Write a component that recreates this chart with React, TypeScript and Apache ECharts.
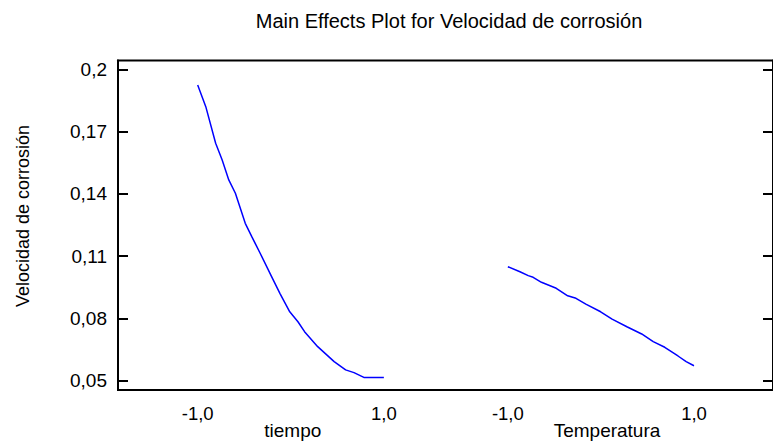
import React, { useEffect, useRef } from "react";
import * as echarts from "echarts";

// Tick labels (y) and factor levels (x)
const yTicks = [0.05, 0.08, 0.11, 0.14, 0.17, 0.2];
const levelTicks = [-1, 1];
const factorNames = ["tiempo", "Temperatura"];

// Main effect curve: tiempo
const tiempoX = [-1.0, -0.913, -0.807, -0.737, -0.666, -0.595, -0.489, -0.419, -0.329, -0.206, -0.117, -0.011, 0.077, 0.148, 0.289, 0.466, 0.589, 0.679, 0.785, 0.88, 1.0];
const tiempoY = [0.1924, 0.182, 0.1644, 0.1563, 0.1467, 0.1403, 0.1258, 0.1194, 0.1114, 0.1001, 0.0921, 0.0832, 0.0784, 0.0736, 0.0664, 0.0592, 0.0552, 0.0539, 0.0516, 0.0515, 0.0516];

// Main effect curve: Temperatura
const tempX = [-1.0, -0.87, -0.781, -0.728, -0.639, -0.48, -0.357, -0.268, -0.162, -0.003, 0.12, 0.279, 0.438, 0.562, 0.686, 0.828, 0.916, 1.0];
const tempY = [0.1049, 0.1025, 0.1006, 0.0998, 0.0974, 0.0945, 0.0909, 0.0897, 0.0869, 0.0832, 0.0797, 0.076, 0.0725, 0.0688, 0.0661, 0.0619, 0.0592, 0.0572];

const FONT = "'Liberation Sans', Arial, sans-serif";

export default function App() {
  const ref = useRef<HTMLDivElement>(null);
  useEffect(() => {
    document.body.style.margin = "0";
    if (!ref.current) return;
    const chart = echarts.init(ref.current, undefined, { renderer: "svg" });
    const gridRect = { left: 118, top: 60.5, width: 663, height: 329.5 };
    const yMin = 0.04552;
    const yMax = 0.20424;
    const fmtX = (v: number) => v.toFixed(1).replace(".", ",");
    const fmtY = (v: number) => String(Math.round(v * 100) / 100).replace(".", ",");
    const yBase = {
      type: "value",
      min: yMin,
      max: yMax,
      splitLine: { show: false },
    };
    chart.setOption({
      animation: false,
      backgroundColor: "#ffffff",
      textStyle: { fontFamily: FONT },
      grid: [
        { ...gridRect, show: true, borderColor: "#000", borderWidth: 2, backgroundColor: "transparent" },
        { ...gridRect },
      ],
      xAxis: [
        {
          type: "value",
          gridIndex: 0,
          min: -1.856,
          max: 5.18,
          axisLine: { show: true, onZero: false, lineStyle: { color: "#000", width: 2 } },
          axisTick: { show: false },
          splitLine: { show: false },
          axisLabel: {
            customValues: levelTicks,
            formatter: fmtX,
            color: "#000",
            fontSize: 18.5,
            fontFamily: FONT,
            margin: 14,
          },
        },
        {
          type: "value",
          gridIndex: 1,
          min: -5.189,
          max: 1.849,
          axisLine: { show: false },
          axisTick: { show: false },
          splitLine: { show: false },
          axisLabel: {
            customValues: levelTicks,
            formatter: fmtX,
            color: "#000",
            fontSize: 18.5,
            fontFamily: FONT,
            margin: 14,
          },
        },
      ],
      yAxis: [
        {
          ...yBase,
          gridIndex: 0,
          position: "left",
          axisLine: { show: true, onZero: false, lineStyle: { color: "#000", width: 2 } },
          axisTick: { show: true, inside: true, length: 10, customValues: yTicks, lineStyle: { color: "#000", width: 2 } },
          axisLabel: {
            customValues: yTicks,
            formatter: fmtY,
            color: "#000",
            fontSize: 19,
            fontFamily: FONT,
            margin: 11,
          },
        },
        {
          ...yBase,
          gridIndex: 0,
          position: "right",
          axisLine: { show: true, onZero: false, lineStyle: { color: "#000", width: 2 } },
          axisTick: { show: true, inside: true, length: 10, customValues: yTicks, lineStyle: { color: "#000", width: 2 } },
          axisLabel: { show: false },
        },
        {
          ...yBase,
          gridIndex: 1,
          show: false,
        },
      ],
      graphic: [
        {
          type: "text",
          x: 449,
          y: 21,
          style: {
            text: "Main Effects Plot for Velocidad de corrosión",
            fill: "#000",
            font: `20px ${FONT}`,
            align: "center",
            verticalAlign: "middle",
          },
        },
        {
          type: "text",
          x: 292.75,
          y: 430,
          style: { text: factorNames[0], fill: "#000", font: `19px ${FONT}`, align: "center", verticalAlign: "middle" },
        },
        {
          type: "text",
          x: 607,
          y: 430,
          style: { text: factorNames[1], fill: "#000", font: `19px ${FONT}`, align: "center", verticalAlign: "middle" },
        },
        {
          type: "text",
          x: 23,
          y: 216,
          rotation: Math.PI / 2,
          style: {
            text: "Velocidad de corrosión",
            fill: "#000",
            font: `18px ${FONT}`,
            align: "center",
            verticalAlign: "middle",
          },
        },
      ],
      series: [
        {
          name: factorNames[0],
          type: "line",
          xAxisIndex: 0,
          yAxisIndex: 0,
          data: tiempoX.map((x, i) => [x, tiempoY[i]]),
          showSymbol: false,
          symbol: "none",
          lineStyle: { color: "#0000ff", width: 1.5 },
        },
        {
          name: factorNames[1],
          type: "line",
          xAxisIndex: 1,
          yAxisIndex: 2,
          data: tempX.map((x, i) => [x, tempY[i]]),
          showSymbol: false,
          symbol: "none",
          lineStyle: { color: "#0000ff", width: 1.5 },
        },
      ],
    });
    return () => chart.dispose();
  }, []);
  return <div ref={ref} style={{ position: "absolute", left: 0, top: 0, width: 773, height: 445 }} />;
}
